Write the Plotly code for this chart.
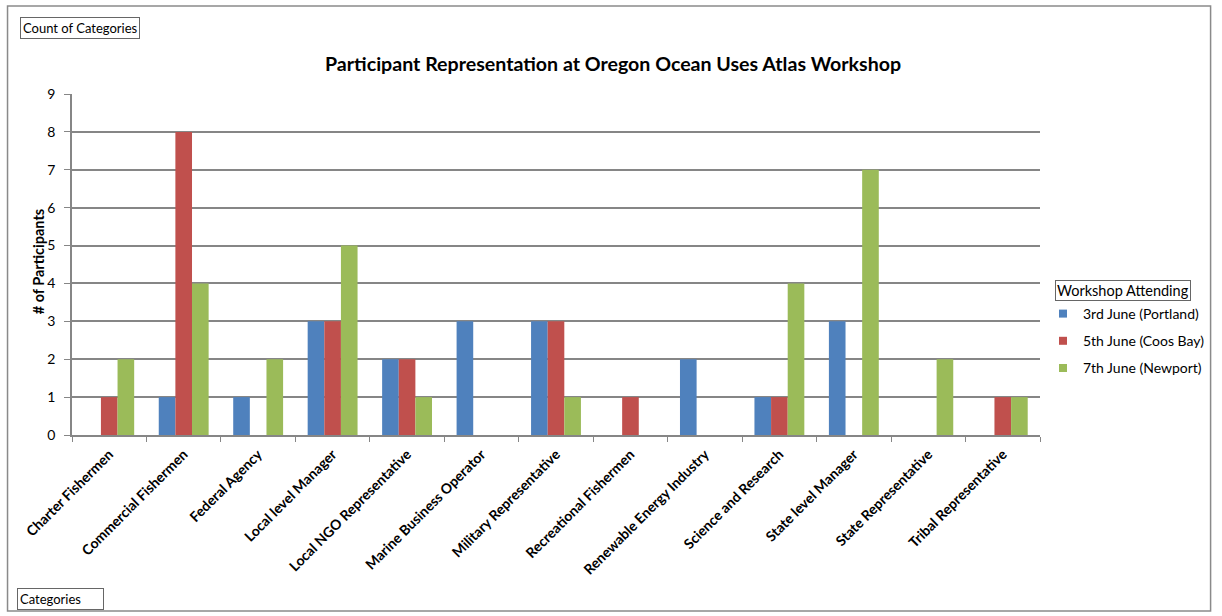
import plotly.graph_objects as go

# Participant counts per stakeholder category, by workshop
categories = [
    "Charter Fishermen", "Commercial Fishermen", "Federal Agency",
    "Local level Manager", "Local NGO Representative", "Marine Business Operator",
    "Military Representative", "Recreational Fishermen", "Renewable Energy Industry",
    "Science and Research", "State level Manager", "State Representative",
    "Tribal Representative",
]
portland = [0, 1, 1, 3, 2, 3, 3, 0, 2, 1, 3, 0, 0]
coos_bay = [1, 8, 0, 3, 2, 0, 3, 1, 0, 1, 0, 0, 1]
newport = [2, 4, 2, 5, 1, 0, 1, 0, 0, 4, 7, 2, 1]

series_names = ["3rd June (Portland)", "5th June (Coos Bay)", "7th June (Newport)"]
series_values = [portland, coos_bay, newport]
series_colors = ["#4F81BD", "#C0504D", "#9BBB59"]

W, H = 1222, 616
L, R, T, B = 72, 174, 94, 181
PW, PH = W - L - R, H - T - B
FONT = "Lato, 'Open Sans', sans-serif"


def px_x(x):
    return (x - L) / PW


def px_y(y):
    return (H - B - y) / PH


fig = go.Figure()
for i, (name, vals, col) in enumerate(zip(series_names, series_values, series_colors)):
    fig.add_trace(go.Bar(
        x=categories, y=vals, name=name, marker_color=col,
        marker_line_width=0, showlegend=False,
    ))
    # small square legend key for each series
    fig.add_trace(go.Scatter(
        x=[None], y=[None], mode="markers", name=name, legendgroup=f"g{i}",
        marker=dict(symbol="square", size=8, color=col, line_width=0),
    ))

shapes = [
    # outer chart border
    dict(type="rect", xref="paper", yref="paper",
         x0=px_x(7), x1=px_x(1220), y0=px_y(611), y1=px_y(6),
         line=dict(color="#8a8a8a", width=1.5), layer="below"),
]

annotations = [
    dict(text="<b>Participant Representation at Oregon Ocean Uses Atlas Workshop</b>",
         xref="paper", yref="paper", x=px_x(617), y=px_y(63), showarrow=False,
         font=dict(family=FONT, size=19.6, color="#000"), xanchor="center", yanchor="middle"),
    dict(text="Count of Categories", xref="paper", yref="paper",
         x=px_x(20), y=px_y(17), xanchor="left", yanchor="top", showarrow=False,
         font=dict(family=FONT, size=13, color="#000"),
         bordercolor="#666", borderwidth=1, borderpad=2, bgcolor="#fff"),
    dict(text="Categories&nbsp;&nbsp;&nbsp;&nbsp;&nbsp;&nbsp;",
         xref="paper", yref="paper",
         x=px_x(17), y=px_y(588), xanchor="left", yanchor="top", showarrow=False,
         font=dict(family=FONT, size=13, color="#000"),
         bordercolor="#666", borderwidth=1, borderpad=2, bgcolor="#fff"),
    dict(text="Workshop Attending", xref="paper", yref="paper",
         x=px_x(1063), y=px_y(280), xanchor="left", yanchor="top", showarrow=False,
         font=dict(family=FONT, size=14.5, color="#000"),
         bordercolor="#666", borderwidth=1, borderpad=1, bgcolor="#fff"),
    dict(text="<b># of Participants</b>", xref="paper", yref="paper",
         x=px_x(38), y=px_y(261), textangle=-90, showarrow=False,
         font=dict(family=FONT, size=14.5, color="#000"), xanchor="center", yanchor="middle"),
]

fig.update_layout(
    width=W, height=H,
    margin=dict(l=L, r=R, t=T, b=B, pad=0),
    paper_bgcolor="#fff", plot_bgcolor="#fff",
    barmode="group", bargap=0.33, bargroupgap=0,
    font=dict(family=FONT, color="#000"),
    showlegend=True,
    legend=dict(
        x=px_x(1051), y=px_y(298), xanchor="left", yanchor="top",
        font=dict(family=FONT, size=14, color="#000"),
        tracegroupgap=6, itemwidth=30, bgcolor="rgba(0,0,0,0)",
    ),
    shapes=shapes,
    annotations=annotations,
)

fig.update_xaxes(
    type="category", tickangle=-45, showgrid=False,
    showline=True, linecolor="#868686", linewidth=1.5,
    ticks="outside", tickson="boundaries", ticklen=5, tickcolor="#868686",
    tickfont=dict(family=FONT, size=14, color="#000", weight="bold"),
    ticklabelstandoff=4,
    range=[-0.5, len(categories) - 0.5],
)
fig.update_yaxes(
    range=[0, 9], dtick=1, showgrid=True, gridcolor="#868686", gridwidth=1.5,
    showline=True, linecolor="#868686", linewidth=1.5,
    ticks="outside", ticklen=6, tickcolor="#868686",
    tickfont=dict(family=FONT, size=14, color="#000"),
    ticklabelstandoff=6,
    zeroline=False,
)

fig.write_html("out.html")
